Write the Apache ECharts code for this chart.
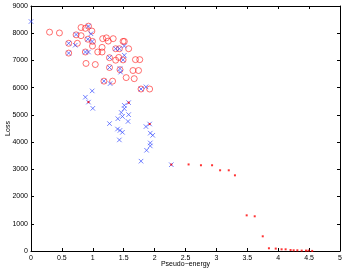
<!DOCTYPE html>
<html><head><meta charset="utf-8">
<script src="https://cdn.jsdelivr.net/npm/echarts@6/dist/echarts.min.js"></script>
<style>html,body{margin:0;padding:0;background:#fff}#c{width:345px;height:271px}</style>
</head><body><div id="c"></div>
<script>
var xTicks = [0,0.5,1,1.5,2,2.5,3,3.5,4,4.5,5];
var yTicks = [0,1000,2000,3000,4000,5000,6000,7000,8000,9000];
var xLabel = 'Pseudo\u2212energy';
var yLabel = 'Loss';
var circles = [[0.30,8040],[0.46,8010],[0.61,7630],[0.61,7270],[0.73,7940],[0.75,7630],[0.81,7910],[0.81,8210],[0.88,8180],[0.93,8260],[0.985,8080],[0.995,7700],[0.995,7530],[0.92,7780],[0.88,7310],[0.89,6890],[1.04,6850],[1.08,7310],[1.15,7310],[1.15,7480],[1.16,7800],[1.22,7830],[1.25,7710],[1.33,7800],[1.37,7430],[1.43,7430],[1.49,7700],[1.51,7700],[1.58,7430],[1.27,7100],[1.37,7010],[1.42,7110],[1.49,7020],[1.69,7030],[1.76,7030],[1.27,6740],[1.44,6660],[1.65,6630],[1.74,6630],[1.54,6370],[1.67,6330],[1.18,6240],[1.32,6240],[1.78,5950],[1.92,5950]];
var crosses = [[0,8430],[0.73,7950],[0.716,7560],[0.61,7630],[0.61,7270],[0.93,8260],[0.97,7980],[0.99,7700],[0.92,7780],[0.88,7310],[0.93,7310],[1.27,7110],[1.27,6740],[1.18,6240],[1.28,6150],[1.37,7430],[1.43,7430],[1.51,7530],[1.51,7190],[1.49,7020],[1.44,6700],[1.45,6570],[1.78,5950],[1.86,6030],[0.99,5880],[0.88,5650],[0.93,5470],[1.0,5240],[1.58,5450],[1.51,5350],[1.51,5230],[1.46,5090],[1.58,5010],[1.48,4940],[1.405,4860],[1.57,4760],[1.27,4680],[1.92,4665],[1.86,4570],[1.40,4480],[1.44,4430],[1.48,4360],[1.93,4330],[1.97,4250],[1.43,4080],[1.93,3970],[1.93,3860],[1.87,3700],[1.78,3300],[2.27,3170]];
var dots = [[0.93,5470],[1.58,5450],[1.92,4665],[2.27,3175],[2.55,3180],[2.75,3150],[2.93,3150],[3.06,2965],[3.20,2965],[3.30,2780],[3.49,1310],[3.62,1275],[3.75,540],[3.85,100],[3.96,88],[4.055,62],[4.12,62],[4.20,37],[4.25,26],[4.31,26],[4.38,15],[4.45,15],[4.49,15],[4.55,3]];

var chart = echarts.init(document.getElementById('c'), null, {renderer:'canvas'});
var font = 'Liberation Sans, Arial, sans-serif';
function plain(v){ return String(v); }
function xa(show, pos){
  return {type:'value', position:pos, min:xTicks[0], max:xTicks[xTicks.length-1], interval:xTicks[1]-xTicks[0],
    axisLine:{show:true, onZero:false, lineStyle:{color:'#000', width:1}},
    axisTick:{show:true, inside:true, length:3, lineStyle:{color:'#000'}},
    axisLabel:{show:show, fontSize:7, color:'#000', fontFamily:font, margin:4, formatter:plain},
    splitLine:{show:false},
    name: show ? xLabel : '', nameLocation:'middle', nameGap:10, nameMoveOverlap:false,
    nameTextStyle:{fontSize:7, color:'#000', fontFamily:font}};
}
function ya(show, pos){
  return {type:'value', position:pos, min:yTicks[0], max:yTicks[yTicks.length-1], interval:yTicks[1]-yTicks[0],
    axisLine:{show:true, onZero:false, lineStyle:{color:'#000', width:1}},
    axisTick:{show:true, inside:true, length:3, lineStyle:{color:'#000'}},
    axisLabel:{show:show, fontSize:7, color:'#000', fontFamily:font, margin:3, formatter:plain},
    splitLine:{show:false},
    name: show ? yLabel : '', nameLocation:'middle', nameGap:19, nameRotate:90, nameMoveOverlap:false,
    nameTextStyle:{fontSize:7, color:'#000', fontFamily:font}};
}
chart.setOption({
  animation:false,
  backgroundColor:'#fff',
  grid:{left:31, right:5, top:6, bottom:20, containLabel:false, outerBoundsMode:'none'},
  xAxis:[xa(true,'bottom'), xa(false,'top')],
  yAxis:[ya(true,'left'), ya(false,'right')],
  series:[
    {type:'scatter', data:circles, symbol:'circle', symbolSize:6,
     itemStyle:{color:'rgba(0,0,0,0)', borderColor:'#ff2020', borderWidth:0.8}},
    {type:'scatter', data:crosses, symbol:'path://M0,0L10,10M10,0L0,10', symbolSize:4.5,
     itemStyle:{color:'none', borderColor:'#3a50ff', borderWidth:0.9}},
    {type:'scatter', data:dots, symbol:'rect', symbolSize:2,
     itemStyle:{color:'#ff0000'}}
  ]
});
</script></body></html>
